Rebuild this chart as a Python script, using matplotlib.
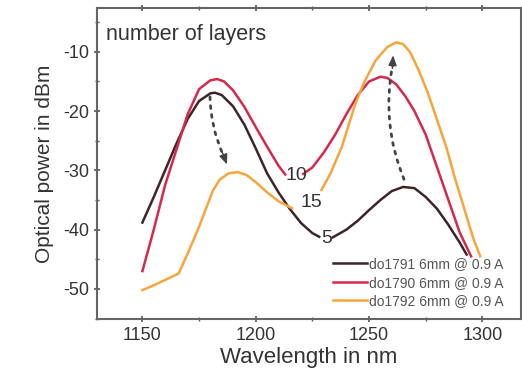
import matplotlib.pyplot as plt
from matplotlib.ticker import MultipleLocator

plt.rcParams['font.family'] = ['Liberation Sans', 'DejaVu Sans']
plt.rcParams['axes.unicode_minus'] = False

# do1791 (5 layers) - two pieces, gap for the "5" label
x5a = [1150, 1155, 1160, 1165, 1170, 1175, 1180, 1182, 1185, 1190, 1195, 1200,
       1205, 1210, 1215, 1220, 1225, 1228]
y5a = [-38.8, -34.5, -30.0, -25.5, -21.3, -18.3, -17.0, -16.9, -17.3, -19.2, -22.3, -26.3,
       -30.5, -33.7, -36.5, -38.9, -40.6, -41.2]
x5b = [1234, 1240, 1245, 1250, 1255, 1260, 1265, 1270, 1275, 1280, 1285, 1290, 1293]
y5b = [-41.3, -40.0, -38.5, -36.7, -35.0, -33.5, -32.8, -33.0, -34.5, -36.5, -39.2, -42.2, -44.2]

# do1790 (10 layers)
x10a = [1150, 1155, 1160, 1165, 1170, 1175, 1180, 1183, 1186, 1190, 1195, 1200,
        1205, 1210, 1213]
y10a = [-47.0, -40.0, -32.5, -26.5, -20.5, -16.3, -14.8, -14.6, -15.0, -16.5, -19.3, -22.7,
        -26.0, -29.2, -30.7]
x10b = [1221, 1225, 1230, 1235, 1240, 1245, 1250, 1255, 1258, 1262, 1266, 1270, 1275,
        1280, 1285, 1290, 1295]
y10b = [-30.6, -29.5, -27.0, -24.0, -20.5, -17.3, -15.0, -14.2, -14.4, -15.5, -17.5, -20.0, -24.0,
        -29.5, -35.0, -40.5, -44.5]

# do1792 (15 layers)
x15a = [1150, 1155, 1160, 1166, 1170, 1175, 1178, 1181, 1184, 1188, 1192, 1196, 1200,
        1205, 1210, 1216]
y15a = [-50.2, -49.4, -48.5, -47.4, -44.0, -39.5, -36.5, -33.5, -31.6, -30.5, -30.3, -30.8, -32.0,
        -33.7, -35.2, -36.4]
x15b = [1229, 1233, 1238, 1244, 1248, 1253, 1258, 1262, 1265, 1268, 1272, 1276, 1280,
        1284, 1288, 1292, 1296, 1299]
y15b = [-33.3, -30.5, -26.0, -18.7, -15.0, -11.4, -9.2, -8.4, -8.7, -10.0, -13.2, -17.0, -21.5,
        -26.0, -31.5, -36.5, -41.5, -44.5]

names = ['do1791 6mm @ 0.9 A', 'do1790 6mm @ 0.9 A', 'do1792 6mm @ 0.9 A']
colors = ['#3e2428', '#d8284a', '#f7a43c']

fig = plt.figure(figsize=(5.22, 3.79), dpi=100)
ax = fig.add_axes([0.186, 0.158, 0.812, 0.821])

lw = 1.8
ax.plot(x5a, y5a, color=colors[0], lw=lw, label=names[0])
ax.plot(x5b, y5b, color=colors[0], lw=lw)
ax.plot(x10a, y10a, color=colors[1], lw=lw, label=names[1])
ax.plot(x10b, y10b, color=colors[1], lw=lw)
ax.plot(x15a, y15a, color=colors[2], lw=lw, label=names[2])
ax.plot(x15b, y15b, color=colors[2], lw=lw)

# curve labels
tc = '#333333'
ax.text(1218, -30.8, '10', fontsize=14, color=tc, ha='center', va='center')
ax.text(1224.5, -35.4, '15', fontsize=14, color=tc, ha='center', va='center')
ax.text(1231.3, -41.5, '5', fontsize=14, color=tc, ha='center', va='center')
ax.text(1134, -7.0, 'number of layers', fontsize=15.5, color=tc, ha='left', va='center')

# dotted arrows: dotted shaft plus a solid head at the tip
ac = '#444444'
shaft = dict(arrowstyle='-', color=ac, lw=2.0, linestyle=(0, (1, 2.2)),
             shrinkA=0, shrinkB=0)
head = dict(arrowstyle='-|>,head_length=0.6,head_width=0.25', color=ac, lw=1.0,
            shrinkA=0, shrinkB=0)
ax.annotate('', xy=(1185.5, -27.3), xytext=(1179.8, -17.6),
            arrowprops=dict(shaft, connectionstyle='arc3,rad=0.1'))
ax.annotate('', xy=(1187.3, -29.0), xytext=(1185.3, -27.0), arrowprops=head)
ax.annotate('', xy=(1260.4, -12.2), xytext=(1265.4, -31.5),
            arrowprops=dict(shaft, connectionstyle='arc3,rad=-0.15'))
ax.annotate('', xy=(1260.6, -10.6), xytext=(1260.3, -12.8), arrowprops=head)

ax.set_xlim(1130, 1317)
ax.set_ylim(-55.1, -2.6)
ax.xaxis.set_major_locator(MultipleLocator(50))
ax.xaxis.set_minor_locator(MultipleLocator(25))
ax.yaxis.set_major_locator(MultipleLocator(10))
ax.yaxis.set_minor_locator(MultipleLocator(5))
ax.tick_params(which='both', colors='#555555', labelcolor='#333333', labelsize=13,
               top=True, right=False, direction='inout')
ax.tick_params(which='major', length=5, width=1.2)
ax.tick_params(which='minor', length=3, width=1.0)
for s in ax.spines.values():
    s.set_color('#666666')
    s.set_linewidth(1.5)

ax.set_xlabel('Wavelength in nm', fontsize=16, color=tc, labelpad=2)
ax.set_ylabel('Optical power in dBm', fontsize=15, color=tc, labelpad=6)

leg = ax.legend(loc='lower right', frameon=False, fontsize=10, handlelength=2.4,
                labelspacing=0.32, handletextpad=0.15, borderaxespad=0.4,
                bbox_to_anchor=(0.985, 0.0))
for t in leg.get_texts():
    t.set_color('#555555')

fig.savefig('out.png', dpi=100)
